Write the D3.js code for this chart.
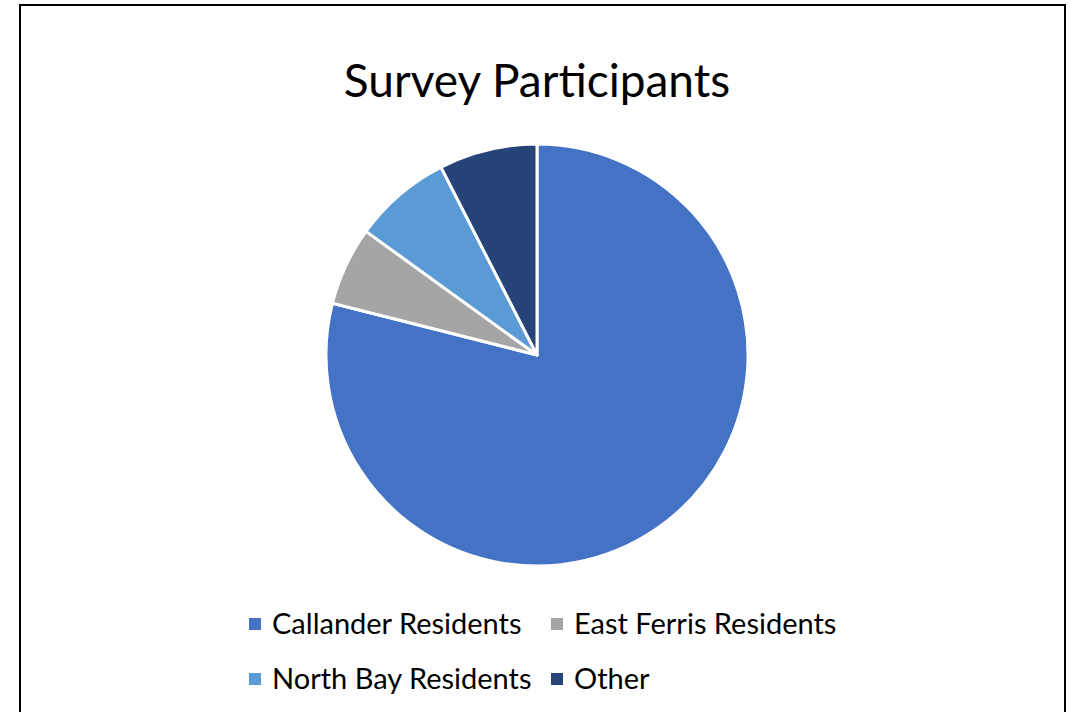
<!DOCTYPE html>
<html>
<head>
<meta charset="utf-8">
<script src="https://cdn.jsdelivr.net/npm/d3@7"></script>
<style>
  body { margin: 0; background: #fff; }
  text { font-family: Lato, "Open Sans", sans-serif; fill: #000; }
</style>
</head>
<body>
<svg></svg>
<script>
var width = 1073,
    height = 712,
    radius = 211;

var categories = ["Callander Residents", "East Ferris Residents", "North Bay Residents", "Other"];
var values = [105, 8, 10, 10];
var colors = ["#4472c4", "#a5a5a5", "#5b9bd5", "#264478"];

var svg = d3.select("svg")
    .attr("width", width)
    .attr("height", height);

// chart frame
svg.append("rect")
    .attr("x", 20)
    .attr("y", 5)
    .attr("width", 1045)
    .attr("height", 720)
    .attr("fill", "#fff")
    .attr("stroke", "#000")
    .attr("stroke-width", 2);

svg.append("text")
    .attr("x", 537)
    .attr("y", 97)
    .attr("text-anchor", "middle")
    .style("font-size", "46px")
    .text("Survey Participants");

var pie = d3.pie().sort(null).value(function(d) { return d.value; });
var arc = d3.arc().innerRadius(0).outerRadius(radius);

var data = categories.map(function(c, i) { return { name: c, value: values[i], color: colors[i] }; });

var g = svg.append("g")
    .attr("transform", "translate(537, 355)");

g.selectAll(".slice")
    .data(pie(data))
  .enter().append("path")
    .attr("class", "slice")
    .attr("d", arc)
    .attr("fill", function(d) { return d.data.color; })
    .attr("stroke", "#fff")
    .attr("stroke-width", 3)
    .attr("stroke-linejoin", "round");

// legend: two columns, two rows
var colX = d3.scaleOrdinal().domain([0, 1]).range([249, 551]);
var rowY = d3.scaleOrdinal().domain([0, 1]).range([624, 679]);

var item = svg.selectAll(".legend")
    .data(data)
  .enter().append("g")
    .attr("class", "legend")
    .attr("transform", function(d, i) {
      return "translate(" + colX(i % 2) + "," + rowY(Math.floor(i / 2)) + ")";
    });

item.append("rect")
    .attr("x", 0)
    .attr("y", -6)
    .attr("width", 12)
    .attr("height", 12)
    .attr("fill", function(d) { return d.color; });

item.append("text")
    .attr("x", 23)
    .attr("y", 10)
    .style("font-size", "29px")
    .text(function(d) { return d.name; });
</script>
</body>
</html>
